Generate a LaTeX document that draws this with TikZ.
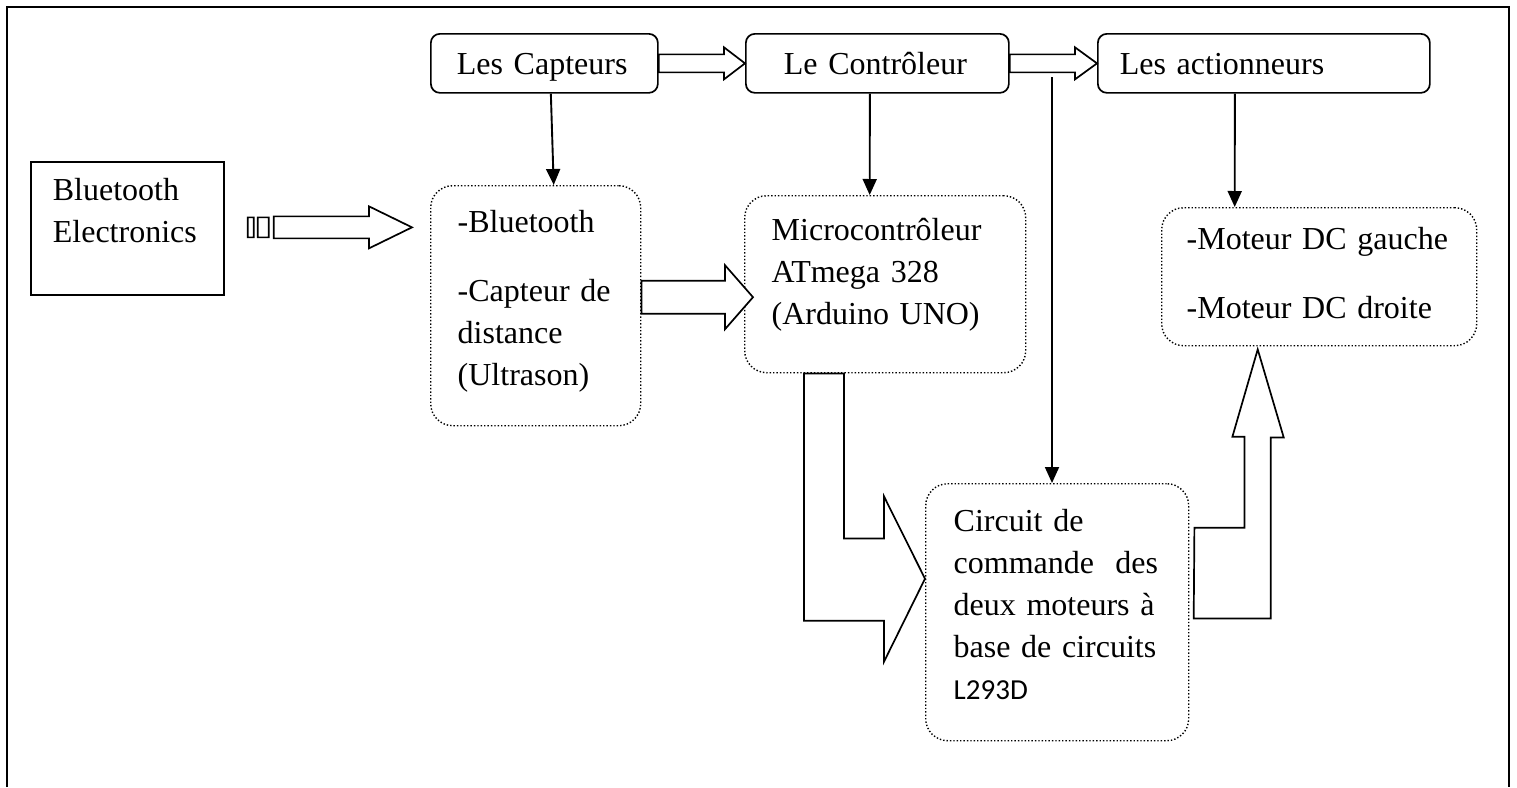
\documentclass[tikz,border=0pt]{standalone}
\usepackage{fontspec}
\setmainfont{Liberation Serif}
\newfontfamily\calibfont{Carlito}
\usetikzlibrary{arrows.meta,calc}
\hyphenpenalty=10000

\tikzset{
  topbox/.style={draw, line width=1.7pt, rounded corners=9pt, anchor=north west, align=left,
    inner ysep=0pt, text height=41pt, text depth=18pt},
  dotbox/.style={draw, dotted, line width=1.4pt, rounded corners=22pt, anchor=north west,
    align=left, inner ysep=0pt},
  plainbox/.style={draw, line width=1.7pt, anchor=north west, align=left, inner ysep=0pt},
  conn/.style={line width=1.9pt, -{Triangle[length=16pt,width=14pt]}},
  blockarrow/.style={draw, line width=1.7pt, fill=white},
}

\newcommand{\hollowarrow}[5]{%
  \draw[blockarrow] let \p1=(#1), \p2=(#2) in
    (\x1,\y1+#3) -- (\x2-#5,\y1+#3) -- (\x2-#5,\y1+#4) -- (\x2,\y1)
    -- (\x2-#5,\y1-#4) -- (\x2-#5,\y1-#3) -- (\x1,\y1-#3) -- cycle;}

\begin{document}
\begin{tikzpicture}[x=1pt, y=-1pt, font=\fontsize{32}{42}\selectfont]
  \useasboundingbox (0,0) rectangle (1517,787);
  \draw[line width=2pt] (7,787) -- (7,7) -- (1509,7) -- (1509,787);

  \node[plainbox, inner xsep=22pt, text width=149pt, text height=39pt, text depth=94pt] (bt) at (30,161) {Bluetooth\\Electronics};

  \node[topbox, inner xsep=26pt, text width=175pt] (capT) at (430,33) {Les Capteurs};
  \node[topbox, inner xsep=38pt, text width=187pt] (contr) at (745,33) {Le Contrôleur};
  \node[topbox, inner xsep=22pt, text width=288pt] (act) at (1097,33) {Les actionneurs};

  \node[dotbox, inner xsep=27pt, text width=156pt, text height=47pt, text depth=193pt] (sens) at (430,185)
    {-Bluetooth\\[27pt]-Capteur de\\distance\\(Ultrason)};
  \node[dotbox, inner xsep=27pt, text width=227pt, text height=45pt, text depth=132pt] (micro) at (744,195)
    {Microcontrôleur\\ATmega 328\\(Arduino UNO)};
  \node[dotbox, inner xsep=25pt, text width=265pt, text height=42pt, text depth=96pt] (mot) at (1161,207)
    {-Moteur DC gauche\\[27pt]-Moteur DC droite};
  \node[dotbox, inner xsep=28pt, text width=207pt, text height=48pt, text depth=209pt] (circ) at (925,483)
    {Circuit de\\commande~~des\\deux moteurs à\\base de circuits\\{\calibfont\fontsize{29}{42}\selectfont L293D}};

  \draw[conn] ([xshift=6.5pt]capT.south) -- ([xshift=18pt]sens.north);
  \draw[conn] ([xshift=-7.5pt]contr.south) -- ([xshift=-15.5pt]micro.north);
  \coordinate (ctap) at (1052,77);
  \draw[conn] (ctap) -- (ctap |- circ.north);
  \draw[conn] ([xshift=-29pt]act.south) -- ([xshift=-84.5pt]mot.north);

  \hollowarrow{capT.east}{contr.west}{9}{16}{21}
  \hollowarrow{contr.east}{act.west}{9}{16}{22}
  \hollowarrow{[yshift=8.5pt]sens.east}{[xshift=9pt]micro.west}{16.5}{32}{28}

  \draw[blockarrow] let \p1=([xshift=23pt,yshift=1pt]bt.east), \p2=([xshift=-18pt]sens.west) in
    (\x1,\y1-10) rectangle (\x1+6,\y1+10)
    (\x1+10,\y1-10) rectangle (\x1+21,\y1+10)
    (\x1+26,\y1+11) -- (\x2-43,\y1+11) -- (\x2-43,\y1+21) -- (\x2,\y1)
    -- (\x2-43,\y1-21) -- (\x2-43,\y1-11) -- (\x1+26,\y1-11) -- cycle;

  \draw[blockarrow] ([xshift=60pt]micro.south west) -- ++(40,0) -- ++(0,165) -- ++(40,0) -- ++(0,-42)
    -- ([yshift=33.5pt]circ.west) -- ++(-41,83) -- ++(0,-41) -- ++(-80,0) -- cycle;
  \draw[blockarrow] ([xshift=5pt,yshift=84.5pt]circ.east) -- ++(50,0) -- ++(0,-91) -- ++(-12,0)
    -- ([xshift=-61.5pt,yshift=-3pt]mot.south) -- ++(26,88) -- ++(-13,0) -- ++(0,181) -- ++(-77,0) -- cycle;
\end{tikzpicture}
\end{document}
